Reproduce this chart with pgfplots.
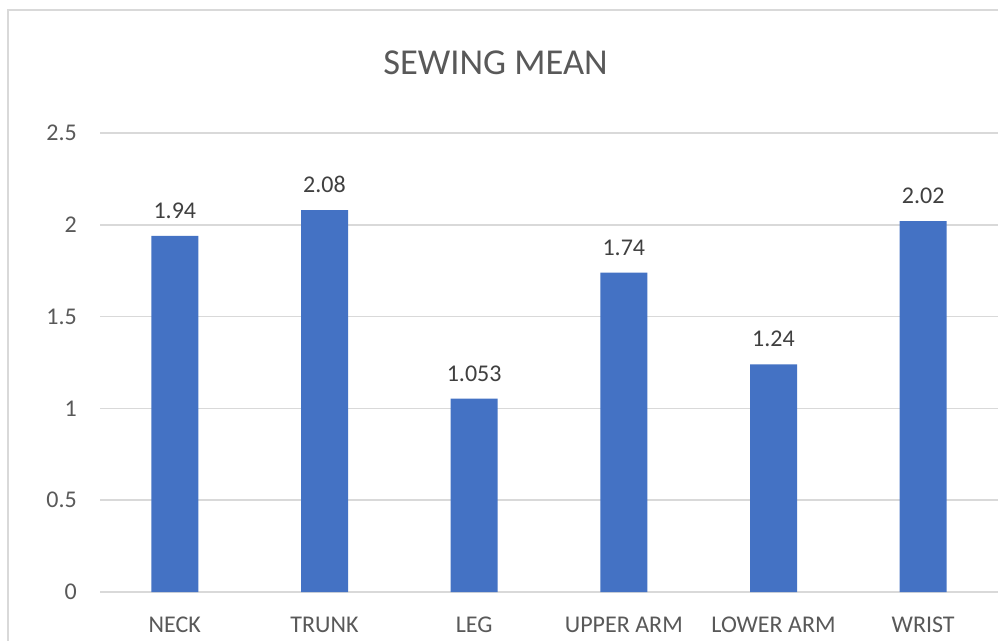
\documentclass[border=0pt]{standalone}
\usepackage{pgfplots}
\pgfplotsset{compat=1.18}
\usepackage{fontspec}
\setmainfont{Carlito}
\definecolor{barblue}{HTML}{4472C4}
\definecolor{gridc}{HTML}{D9D9D9}
\definecolor{ticktxt}{HTML}{595959}
\definecolor{lbltxt}{HTML}{404040}
\begin{document}
\begin{tikzpicture}[x=1pt,y=1pt]
\useasboundingbox (0,0) rectangle (998,640);
\fill[white] (0,0) rectangle (998,640);
\draw[gridc, line width=2pt] (8,-20) -- (8,630) -- (1020,630);
\node[anchor=base, text=ticktxt, inner sep=0pt, font=\fontsize{36.5}{42}\selectfont] at (495.5,565) {SEWING MEAN};
\begin{axis}[
  at={(100pt,48pt)}, anchor=south west,
  scale only axis, width=898pt, height=459pt,
  xmin=-0.5, xmax=5.5, ymin=0, ymax=2.5,
  ytick={0,0.5,1,1.5,2,2.5},
  yticklabels={0,0.5,1,1.5,2,2.5},
  xtick={0,1,2,3,4,5},
  xticklabels={NECK,TRUNK,LEG,UPPER ARM,LOWER ARM,WRIST},
  axis line style={draw=none},
  major tick length=0pt,
  ymajorgrids, grid style={gridc, line width=1.5pt},
  tick label style={font=\fontsize{24}{28}\selectfont, text=ticktxt, inner sep=0pt},
  yticklabel style={anchor=east, xshift=-23pt},
  xticklabel style={anchor=base, yshift=-40pt},
  ybar, bar width=47pt,
  nodes near coords,
  point meta=explicit symbolic,
  every node near coord/.append style={font=\fontsize{24}{28}\selectfont, text=lbltxt, anchor=base, inner sep=0pt, yshift=17.5pt},
  clip=false,
]
\addplot[fill=barblue, draw=none] coordinates {
  (0,1.94) [1.94]
  (1,2.08) [2.08]
  (2,1.053) [1.053]
  (3,1.74) [1.74]
  (4,1.24) [1.24]
  (5,2.02) [2.02]
};
\end{axis}
\end{tikzpicture}
\end{document}
